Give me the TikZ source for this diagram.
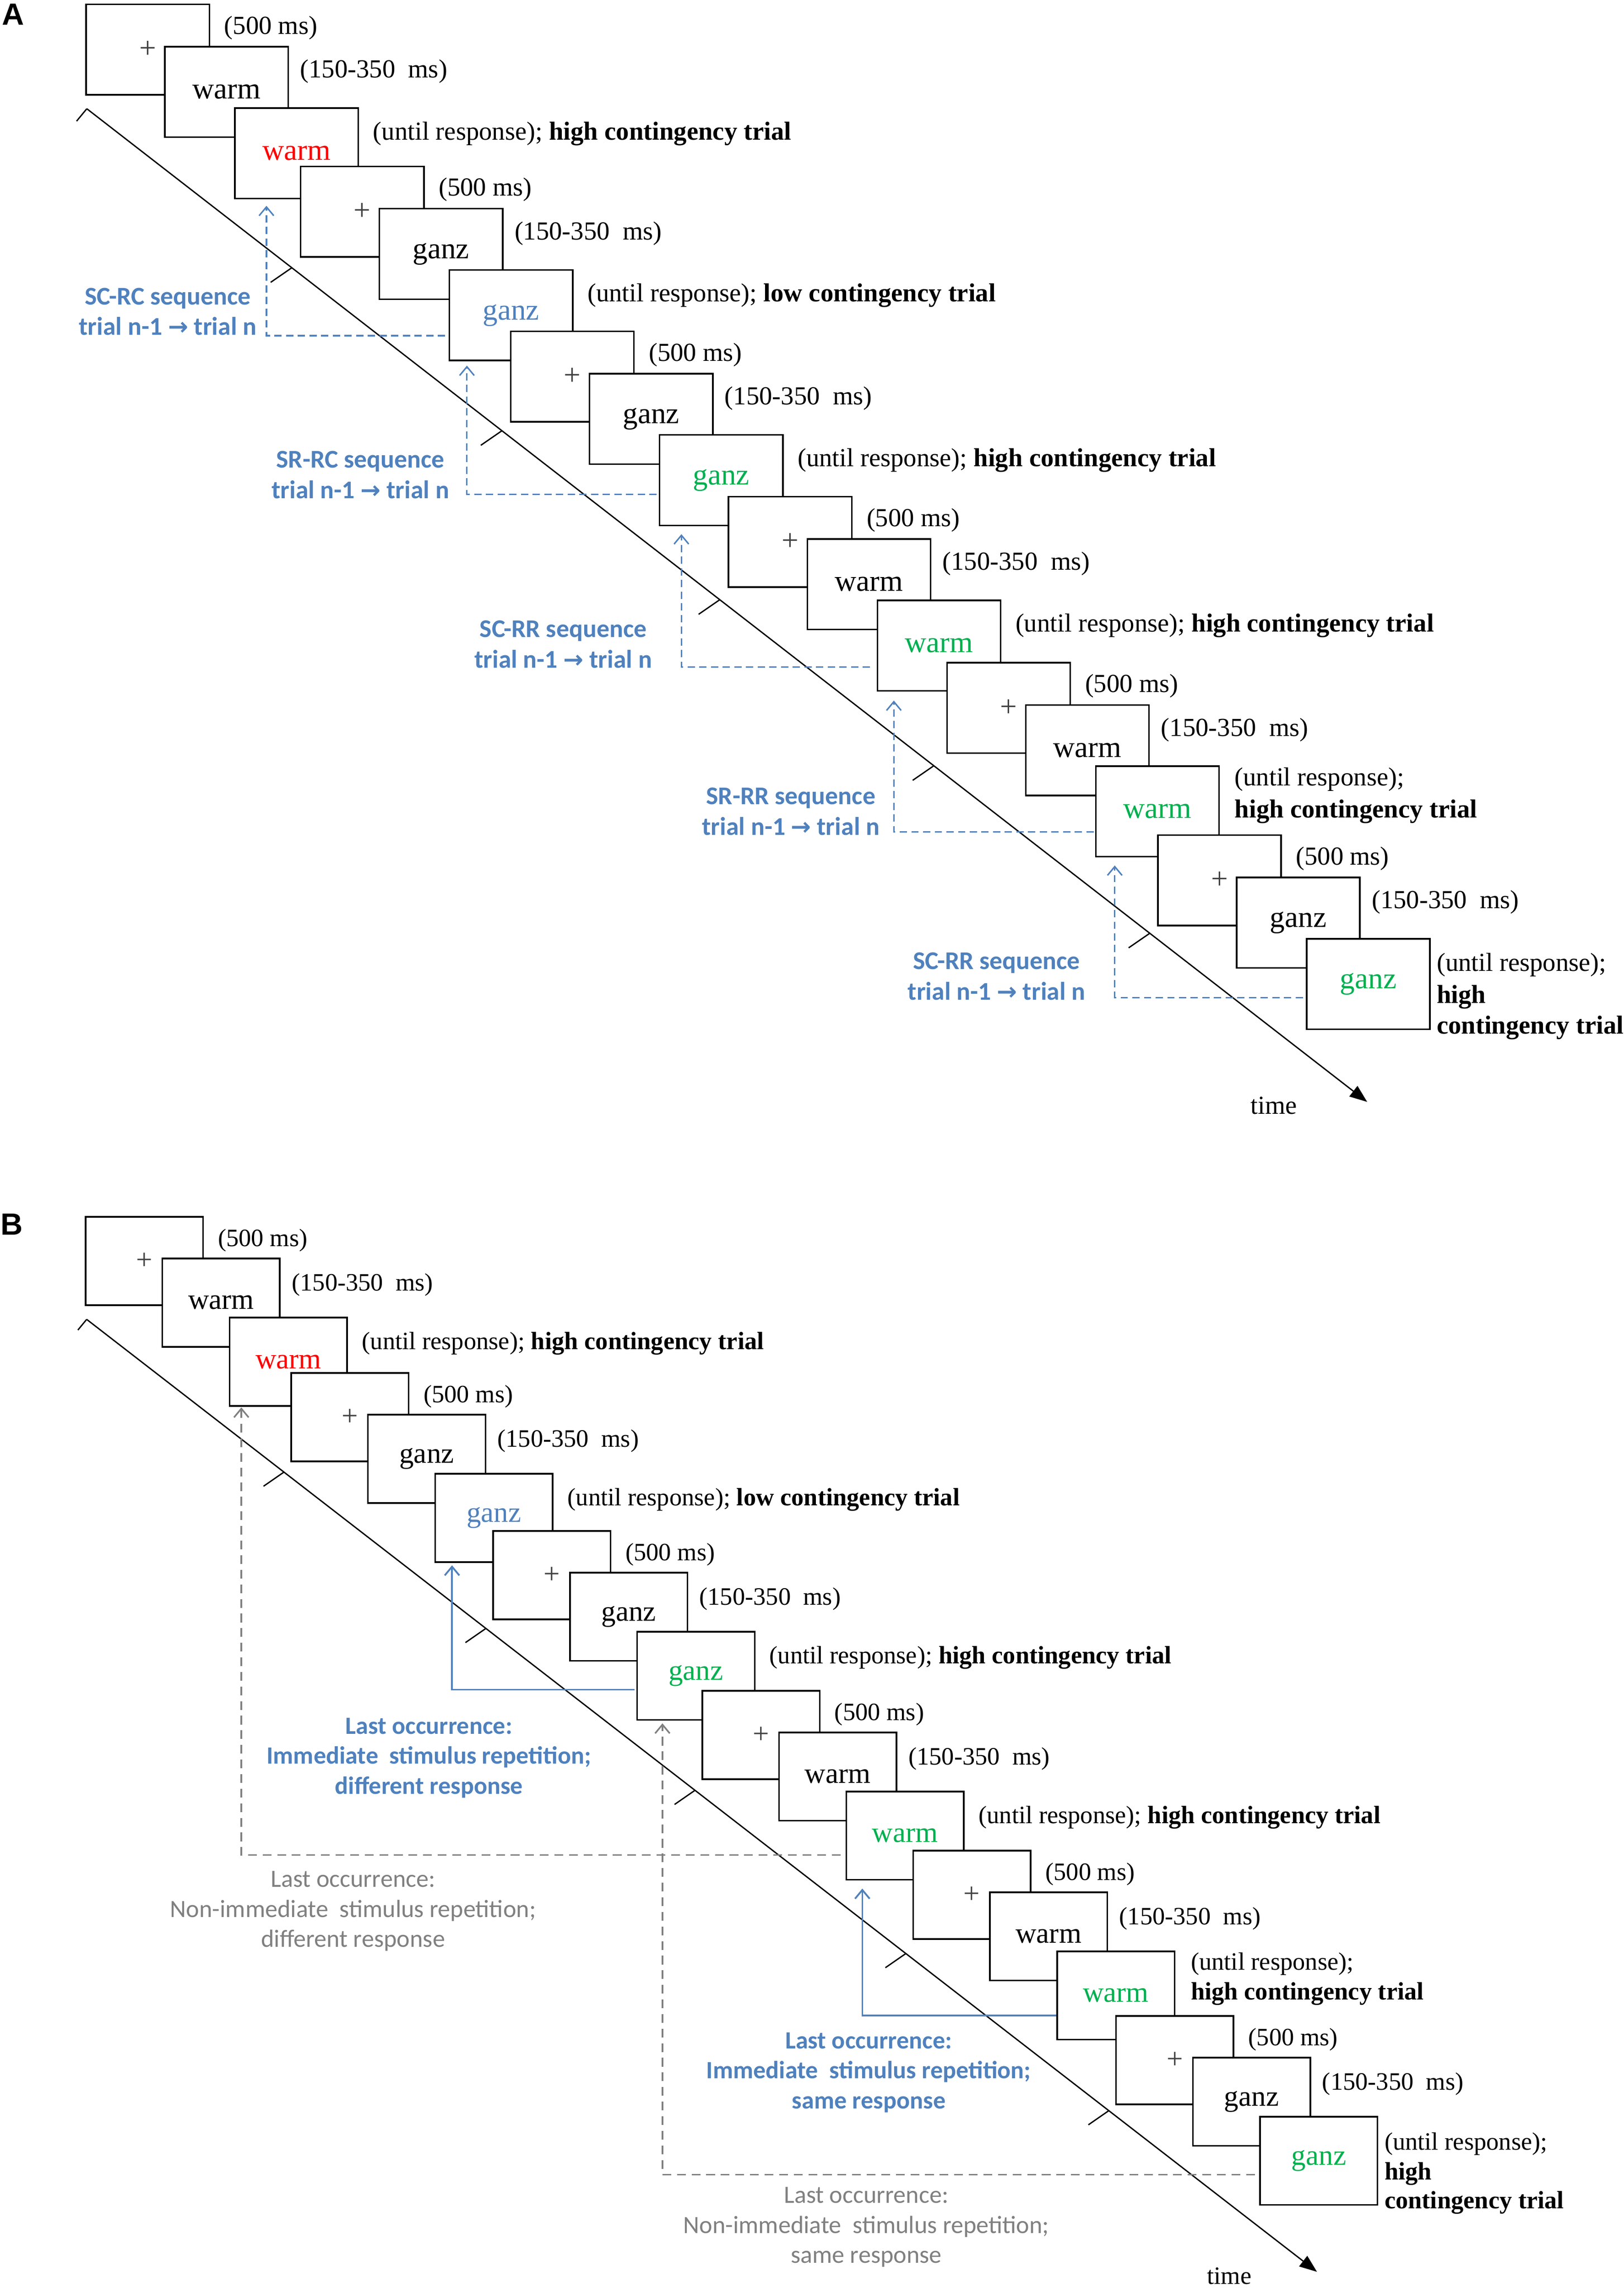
\documentclass[tikz,border=0pt]{standalone}
\usepackage{fontspec}
\setmainfont{Liberation Serif}
\newfontfamily\calfont{Carlito}
\newfontfamily\sansbold{Liberation Sans}
\newfontfamily\arrfont{DejaVu Sans}
\usetikzlibrary{arrows.meta,calc}
\definecolor{ofblue}{RGB}{79,129,189}
\definecolor{ofgreen}{RGB}{0,176,80}
\definecolor{ofgray}{RGB}{128,128,128}
\newcommand{\rarr}{{\arrfont\bfseries\fontsize{16.5}{18}\selectfont →}}
\begin{document}
\begin{tikzpicture}[x=1pt,y=-1pt,
  boxA/.style={draw=black, fill=white, line width=1.1pt, minimum width=84.5pt, minimum height=62pt, anchor=north west, inner sep=0pt, outer sep=0pt, font=\fontsize{20.5}{24}\selectfont},
  boxB/.style={boxA, minimum width=80.5pt, minimum height=60.5pt, font=\fontsize{19.8}{23}\selectfont},
  labA/.style={anchor=west, inner sep=0pt, font=\fontsize{17.8}{21}\selectfont},
  labB/.style={anchor=west, inner sep=0pt, font=\fontsize{17.1}{20.5}\selectfont},
  seqA/.style={align=center, inner sep=0pt, text=ofblue, font=\calfont\bfseries\fontsize{17.5}{21}\selectfont},
  occB/.style={align=center, inner sep=0pt, text=ofblue, font=\calfont\bfseries\fontsize{17}{20.5}\selectfont},
  occG/.style={align=center, inner sep=0pt, text=ofgray, font=\calfont\fontsize{17}{20.5}\selectfont},
  tipV/.style={-{Straight Barb[length=6pt,width=10pt]}},
  bluedash/.style={draw=ofblue, line width=1pt, dash pattern=on 5pt off 3pt, tipV},
  bluesolid/.style={draw=ofblue, line width=1.2pt, tipV},
  graydash/.style={draw=ofgray, line width=1.1pt, dash pattern=on 6pt off 4pt, tipV},
  timeaxis/.style={draw=black, line width=0.9pt, -{Triangle[length=12pt,width=9pt]}},
  tickmark/.style={draw=black, line width=0.9pt},
  panel/.style={font=\sansbold\bfseries\fontsize{21}{24}\selectfont, inner sep=0pt}
]
\path[use as bounding box, fill=white] (0,0) rectangle (1113,1567.7);

% ---------------- panel labels
\node[panel] (pA) at (9,10) {A};
\node[panel] (pB) at (8,839) {B};

% ---------------- time axes
\coordinate (aS) at (59.5,74.5);
\coordinate (aE) at (937,755);
\draw[timeaxis] (aS) -- (aE);
\draw[tickmark] (aS) -- ++(-7,8.5);
\foreach \x in {200,344,493.3,640,788}
  \draw[tickmark] (\x,{74.5+0.7755*(\x-59.5)}) -- ++(-14.5,10);
\node[labA, anchor=center] (atime) at (873,757.5) {time};

\coordinate (bS) at (59.4,904);
\coordinate (bE) at (902.6,1556.6);
\draw[timeaxis] (bS) -- (bE);
\draw[tickmark] (bS) -- ++(-6,7.3);
\foreach \x in {194.6,333,476.3,620.8,759.9}
  \draw[tickmark] (\x,{904+0.774*(\x-59.4)}) -- ++(-14,9.7);
\node[labB, anchor=center] (btime) at (842.5,1559.5) {time};

% ---------------- panel A trials
\foreach \i/\rx/\ry/\w/\c in {1/161/74/warm/red, 2/308/185/ganz/ofblue, 3/452/298/ganz/ofgreen, 4/601.3/411.3/warm/ofgreen, 5/751/525/warm/ofgreen, 6/895.5/643.2/ganz/ofgreen}{
  \node[boxA] (a\i f) at (\rx-102,\ry-71) {\textcolor{black!75}{+}};
  \node[boxA] (a\i w) at (\rx-48,\ry-42) {\w};
  \node[boxA, text=\c] (a\i r) at (\rx,\ry) {\w};
  \node[labA] (a\i fl) at ([xshift=10pt,yshift=-16pt]a\i f.north east) {(500 ms)};
  \node[labA] (a\i wl) at ([xshift=8pt,yshift=-17pt]a\i w.north east) {(150-350\ \ ms)};
}
\node[labA] (a1rl) at ([xshift=10pt,yshift=-17.5pt]a1r.north east) {(until response); \textbf{high contingency trial}};
\node[labA] (a2rl) at ([xshift=10pt,yshift=-17.5pt]a2r.north east) {(until response); \textbf{low contingency trial}};
\node[labA] (a3rl) at ([xshift=10pt,yshift=-17.5pt]a3r.north east) {(until response); \textbf{high contingency trial}};
\node[labA] (a4rl) at ([xshift=10pt,yshift=-17.5pt]a4r.north east) {(until response); \textbf{high contingency trial}};
\node[labA] (a5rl1) at ([xshift=10.5pt,yshift=-9pt]a5r.north east) {(until response);};
\node[labA] (a5rl2) at ([xshift=10.5pt,yshift=-31pt]a5r.north east) {\textbf{high contingency trial}};
\node[labA] (a6rl1) at ([xshift=4.5pt,yshift=-18pt]a6r.north east) {(until response);};
\node[labA] (a6rl2) at ([xshift=4.5pt,yshift=-40pt]a6r.north east) {\textbf{high}};
\node[labA] (a6rl3) at ([xshift=4.5pt,yshift=-61pt]a6r.north east) {\textbf{contingency trial}};

% ---------------- panel A connectors
\draw[bluedash] ([xshift=-3pt,yshift=17pt]a2r.south west) -| ([xshift=21.6pt,yshift=-5pt]a1r.south west);
\draw[bluedash] ([xshift=-2pt,yshift=21.3pt]a3r.south west) -| ([xshift=12pt,yshift=-3.5pt]a2r.south west);
\draw[bluedash] ([xshift=-5pt,yshift=16.3pt]a4r.south west) -| ([xshift=15pt,yshift=-6pt]a3r.south west);
\draw[bluedash] ([xshift=-1.4pt,yshift=17pt]a5r.south west) -| ([xshift=11.3pt,yshift=-6.7pt]a4r.south west);
\draw[bluedash] ([xshift=-2.5pt,yshift=21.7pt]a6r.south west) -| ([xshift=13pt,yshift=-6pt]a5r.south west);

\node[seqA] (sq1) at (115,213.5) {SC-RC sequence\\trial n-1 \rarr{} trial n};
\node[seqA] (sq2) at (247,325.5) {SR-RC sequence\\trial n-1 \rarr{} trial n};
\node[seqA] (sq3) at (386,441.5) {SC-RR sequence\\trial n-1 \rarr{} trial n};
\node[seqA] (sq4) at (542,556) {SR-RR sequence\\trial n-1 \rarr{} trial n};
\node[seqA] (sq5) at (683,669) {SC-RR sequence\\trial n-1 \rarr{} trial n};

% ---------------- panel B trials
\foreach \i/\rx/\ry/\w/\c in {1/157.4/902.8/warm/red, 2/298.3/1009.8/ganz/ofblue, 3/436.7/1118/ganz/ofgreen, 4/580/1227.5/warm/ofgreen, 5/724.5/1337/warm/ofgreen, 6/863.6/1450.3/ganz/ofgreen}{
  \node[boxB] (b\i f) at (\rx-98.7,\ry-69) {\textcolor{black!75}{+}};
  \node[boxB] (b\i w) at (\rx-46.1,\ry-40.5) {\w};
  \node[boxB, text=\c] (b\i r) at (\rx,\ry) {\w};
  \node[labB] (b\i fl) at ([xshift=10pt,yshift=-16pt]b\i f.north east) {(500 ms)};
  \node[labB] (b\i wl) at ([xshift=8pt,yshift=-18pt]b\i w.north east) {(150-350\ \ ms)};
}
\node[labB] (b1rl) at ([xshift=10pt,yshift=-17.8pt]b1r.north east) {(until response); \textbf{high contingency trial}};
\node[labB] (b2rl) at ([xshift=10pt,yshift=-17.8pt]b2r.north east) {(until response); \textbf{low contingency trial}};
\node[labB] (b3rl) at ([xshift=10pt,yshift=-17.8pt]b3r.north east) {(until response); \textbf{high contingency trial}};
\node[labB] (b4rl) at ([xshift=10pt,yshift=-17.8pt]b4r.north east) {(until response); \textbf{high contingency trial}};
\node[labB] (b5rl1) at ([xshift=11pt,yshift=-8.5pt]b5r.north east) {(until response);};
\node[labB] (b5rl2) at ([xshift=11pt,yshift=-29pt]b5r.north east) {\textbf{high contingency trial}};
\node[labB] (b6rl1) at ([xshift=4.6pt,yshift=-18.7pt]b6r.north east) {(until response);};
\node[labB] (b6rl2) at ([xshift=4.6pt,yshift=-39pt]b6r.north east) {\textbf{high}};
\node[labB] (b6rl3) at ([xshift=4.6pt,yshift=-59pt]b6r.north east) {\textbf{contingency trial}};

% ---------------- panel B connectors
\draw[graydash] ([xshift=-4pt,yshift=17pt]b4r.south west) -| ([xshift=8pt,yshift=-1pt]b1r.south west);
\draw[bluesolid] ([xshift=-1.7pt,yshift=20.8pt]b3r.south west) -| ([xshift=11.5pt,yshift=-2.2pt]b2r.south west);
\draw[graydash] ([xshift=-3.6pt,yshift=20.8pt]b6r.south west) -| ([xshift=17.3pt,yshift=-2.3pt]b3r.south west);
\draw[bluesolid] ([xshift=-0.5pt,yshift=16.5pt]b5r.south west) -| ([xshift=11pt,yshift=-6pt]b4r.south west);

\node[occB] (lo1) at (294,1204.5) {Last occurrence:\\Immediate\ \ stimulus repetition;\\different response};
\node[occG] (lo2) at (242,1309.5) {Last occurrence:\\Non-immediate\ \ stimulus repetition;\\different response};
\node[occB] (lo3) at (595.4,1420) {Last occurrence:\\Immediate\ \ stimulus repetition;\\same response};
\node[occG] (lo4) at (593.7,1526) {Last occurrence:\\Non-immediate\ \ stimulus repetition;\\same response};
\end{tikzpicture}
\end{document}
